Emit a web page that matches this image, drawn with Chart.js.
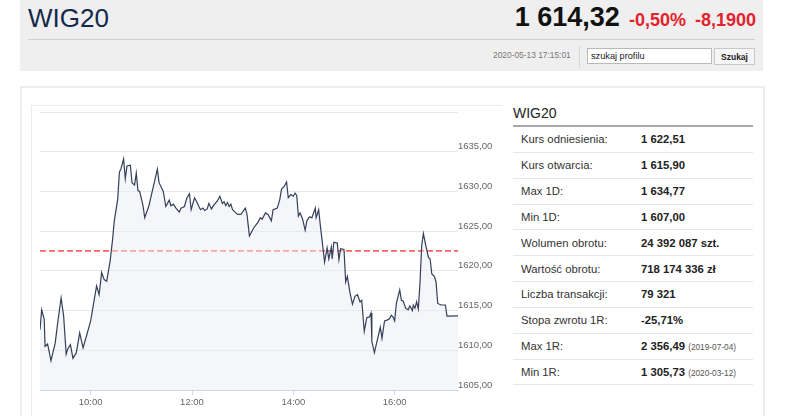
<!DOCTYPE html>
<html lang="pl">
<head>
<meta charset="utf-8">
<title>WIG20</title>
<script src="https://cdn.jsdelivr.net/npm/chart.js@4/dist/chart.umd.min.js"></script>
<style>
  body { margin: 0; width: 786px; height: 416px; overflow: hidden; background: #fff;
         font-family: "Liberation Sans", Arial, sans-serif; position: relative; }
  .abs { position: absolute; }
  #head { left: 20px; top: 0; width: 743px; height: 71px; background: #efefef; }
  #name { left: 28px; top: 3px; font-size: 26px; color: #13294b; }
  #quote { right: 30px; top: 2px; white-space: nowrap; }
  #quote .px { font-size: 27px; font-weight: bold; color: #111; }
  #quote .ch { font-size: 18px; font-weight: bold; color: #e4222b; margin-left: 9px; }
  #sep { left: 28px; top: 39px; width: 727px; height: 1px; background: #cfcfcf; }
  #date { left: 493px; top: 50px; font-size: 8.4px; color: #777; }
  #vsep { left: 579px; top: 46px; width: 1px; height: 21px; background: #d5d5d5; }
  #search { left: 587px; top: 48px; width: 120px; height: 14px; background: #fff; border: 1px solid #b9b9b9;
            font-size: 9.2px; color: #222; padding: 0 0 0 3px; line-height: 14px; }
  #btn { left: 714px; top: 48px; width: 39px; height: 15px; background: #f6f6f6; border: 1px solid #c8c8c8;
         font-size: 8.5px; font-weight: bold; color: #222; text-align: center; line-height: 16px; }
  #panel { left: 20px; top: 86px; width: 741px; height: 340px; border: 2px solid #ededed; }
  #box { left: 31px; top: 105px; width: 470px; height: 320px; border-top: 1px solid #ececec; border-left: 1px solid #ececec; }
  #chartWrap { left: 32px; top: 106px; width: 466px; height: 310px; }
  #info { left: 513px; top: 104px; width: 240px; }
  #info h3 { margin: 0; font-size: 14px; font-weight: normal; color: #222; height: 21px; line-height: 19px;
             border-bottom: 2px solid #a8a8a8; }
  #info table { border-collapse: collapse; width: 240px; }
  #info td { height: 24.85px; border-bottom: 1px solid #e6e6e6; font-size: 11.3px; color: #333; padding: 0; }
  #info td.l { padding-left: 8px; width: 120px; }
  #info td.v { font-weight: bold; color: #222; }
  #info td.v small { font-size: 8.3px; font-weight: normal; color: #555; }
</style>
</head>
<body>
<div id="head" class="abs"></div>
<div id="name" class="abs">WIG20</div>
<div id="quote" class="abs"><span class="px">1 614,32</span><span class="ch">-0,50%</span><span class="ch">-8,1900</span></div>
<div id="sep" class="abs"></div>
<div id="date" class="abs">2020-05-13 17:15:01</div>
<div id="vsep" class="abs"></div>
<div id="search" class="abs">szukaj profilu</div>
<div id="btn" class="abs">Szukaj</div>

<div id="panel" class="abs"></div>
<div id="box" class="abs"></div>
<div id="chartWrap" class="abs"><canvas id="chart"></canvas></div>

<div id="info" class="abs">
  <h3>WIG20</h3>
  <table>
    <tr><td class="l">Kurs odniesienia:</td><td class="v">1 622,51</td></tr>
    <tr><td class="l">Kurs otwarcia:</td><td class="v">1 615,90</td></tr>
    <tr><td class="l">Max 1D:</td><td class="v">1 634,77</td></tr>
    <tr><td class="l">Min 1D:</td><td class="v">1 607,00</td></tr>
    <tr><td class="l">Wolumen obrotu:</td><td class="v">24 392 087 szt.</td></tr>
    <tr><td class="l">Wartość obrotu:</td><td class="v">718 174 336 zł</td></tr>
    <tr><td class="l">Liczba transakcji:</td><td class="v">79 321</td></tr>
    <tr><td class="l">Stopa zwrotu 1R:</td><td class="v">-25,71%</td></tr>
    <tr><td class="l">Max 1R:</td><td class="v">2 356,49 <small>(2019-07-04)</small></td></tr>
    <tr><td class="l">Min 1R:</td><td class="v">1 305,73 <small>(2020-03-12)</small></td></tr>
  </table>
</div>

<script>
// intraday quotes
const times = [
  '09:00','09:02','09:05','09:06','09:09','09:13','09:18','09:21','09:25','09:28',
  '09:31','09:33','09:36','09:39','09:43','09:47','09:51','09:55','10:00','10:03',
  '10:07','10:10','10:13','10:16','10:19','10:23','10:26','10:28','10:32','10:34',
  '10:36','10:39','10:41','10:43','10:47','10:49','10:52','10:54','10:56','10:58',
  '11:02','11:04','11:09','11:14','11:19','11:21','11:26','11:29','11:33','11:35',
  '11:38','11:41','11:45','11:47','11:51','11:54','11:57','11:59','12:03','12:06',
  '12:10','12:13','12:15','12:18','12:20','12:23','12:26','12:30','12:33','12:36',
  '12:38','12:40','12:42','12:44','12:46','12:48','12:51','12:54','12:58','13:03',
  '13:05','13:08','13:13','13:18','13:21','13:23','13:27','13:30','13:34','13:36',
  '13:41','13:44','13:46','13:49','13:52','13:54','13:57','14:00','14:02','14:04',
  '14:06','14:08','14:11','14:14','14:16','14:19','14:22','14:26','14:27','14:30',
  '14:32','14:34','14:37','14:40','14:42','14:45','14:46','14:48','14:52','14:54',
  '14:56','15:00','15:02','15:04','15:07','15:10','15:13','15:16','15:19','15:21',
  '15:24','15:27','15:30','15:32','15:33','15:36','15:39','15:43','15:45','15:48',
  '15:51','15:54','15:56','15:58','16:00','16:02','16:06','16:08','16:10','16:13',
  '16:16','16:18','16:21','16:22','16:24','16:26','16:28','16:30','16:32','16:34',
  '16:37','16:40','16:42','16:44','16:47','16:49','16:51','16:55','17:00','17:02',
  '17:15'
];
const prices = [
  1612.6,1615.1,1613.9,1610.5,1610.8,1608.7,1610.9,1613.5,1616.6,1614.3,
  1609.5,1610.2,1610.7,1609.0,1609.7,1612.2,1610.3,1611.8,1613.7,1615.6,
  1618.1,1617.0,1619.8,1618.9,1618.7,1621.2,1624.0,1626.3,1629.0,1632.4,
  1632.9,1634.1,1631.6,1633.2,1633.3,1631.1,1630.8,1632.3,1630.1,1630.0,
  1628.2,1626.7,1628.2,1630.5,1632.8,1631.1,1630.0,1628.1,1628.9,1628.2,
  1628.4,1627.9,1627.4,1627.9,1628.1,1629.2,1629.7,1627.7,1629.2,1628.6,
  1627.7,1627.9,1627.6,1627.8,1628.5,1627.8,1628.3,1628.8,1629.4,1628.5,
  1628.7,1628.2,1628.6,1628.1,1628.4,1627.7,1627.4,1627.1,1627.1,1627.9,
  1627.2,1624.4,1625.4,1626.1,1626.7,1626.5,1627.3,1627.1,1626.3,1627.7,
  1627.9,1629.0,1630.3,1630.6,1631.2,1629.2,1629.6,1629.4,1629.8,1629.5,
  1626.9,1627.3,1626.5,1625.1,1626.3,1626.8,1626.7,1627.9,1626.7,1627.7,
  1625.7,1623.9,1621.1,1622.9,1621.5,1623.0,1621.5,1623.6,1623.5,1621.4,
  1622.8,1622.7,1618.6,1619.3,1617.3,1615.8,1616.8,1617.0,1616.1,1616.3,
  1612.4,1614.1,1614.2,1614.7,1611.1,1609.7,1611.1,1612.9,1611.5,1613.7,
  1613.8,1614.0,1614.4,1614.2,1613.7,1615.9,1617.6,1616.3,1616.2,1615.3,
  1615.1,1615.6,1615.0,1615.7,1615.3,1616.1,1615.2,1618.5,1623.2,1624.7,
  1623.1,1621.7,1621.5,1619.6,1619.3,1618.6,1615.9,1615.7,1615.7,1614.3,
  1614.32
];
const refPrice = 1622.51;            // kurs odniesienia
const timeTicks = ['10:00', '12:00', '14:00', '16:00'];
const priceTicks = [1605, 1610, 1615, 1620, 1625, 1630, 1635, 1640];

const toMin = s => { const p = s.split(':'); return +p[0] * 60 + +p[1]; };
const fmtTime = m => String(Math.floor(m / 60)).padStart(2, '0') + ':' + String(m % 60).padStart(2, '0');

const startMin = toMin(times[0]);
const endMin = toMin(times[times.length - 1]);
const points = times.map((t, i) => ({ x: toMin(t), y: prices[i] }));

new Chart(document.getElementById('chart'), {
  type: 'line',
  data: {
    datasets: [
      {
        data: points,
        borderColor: '#34405a',
        borderWidth: 1.2,
        backgroundColor: 'rgba(235,237,243,0.5)',
        fill: 'start',
        pointRadius: 0,
        tension: 0,
        order: 1,
      },
      {
        data: [{ x: startMin, y: refPrice }, { x: endMin, y: refPrice }],
        borderColor: '#ff6262',
        borderWidth: 1.6,
        borderDash: [6, 3],
        pointRadius: 0,
        fill: false,
        order: 2,
      },
    ],
  },
  options: {
    responsive: true,
    maintainAspectRatio: false,
    animation: false,
    layout: { padding: { left: 8, top: 6, right: 0, bottom: 0 } },
    plugins: { legend: { display: false }, tooltip: { enabled: false } },
    scales: {
      x: {
        type: 'linear',
        min: startMin,
        max: endMin,
        afterBuildTicks: scale => { scale.ticks = timeTicks.map(t => ({ value: toMin(t) })); },
        afterFit: scale => { scale.height = 26; },
        grid: { drawOnChartArea: false, tickLength: 5, tickColor: '#ccd6eb' },
        border: { color: '#ccd6eb', width: 1 },
        ticks: {
          color: '#666',
          font: { family: 'Liberation Sans, Arial', size: 9.5 },
          padding: 2,
          maxRotation: 0,
          callback: v => fmtTime(v),
        },
      },
      y: {
        position: 'right',
        min: priceTicks[0],
        max: priceTicks[priceTicks.length - 1],
        afterBuildTicks: scale => { scale.ticks = priceTicks.map(v => ({ value: v })); },
        afterFit: scale => { scale.width = 40; },
        border: { display: false },
        grid: {
          drawTicks: false,
          color: c => (c.tick && c.tick.value === priceTicks[0] ? 'rgba(0,0,0,0)' : '#e6e6e6'),
        },
        ticks: {
          color: '#666',
          font: { family: 'Liberation Sans, Arial', size: 9.5 },
          padding: 0,
          labelOffset: -5,
          callback: v => (v === priceTicks[priceTicks.length - 1] ? '' : v.toFixed(2).replace('.', ',')),
        },
      },
    },
  },
});
</script>
</body>
</html>
